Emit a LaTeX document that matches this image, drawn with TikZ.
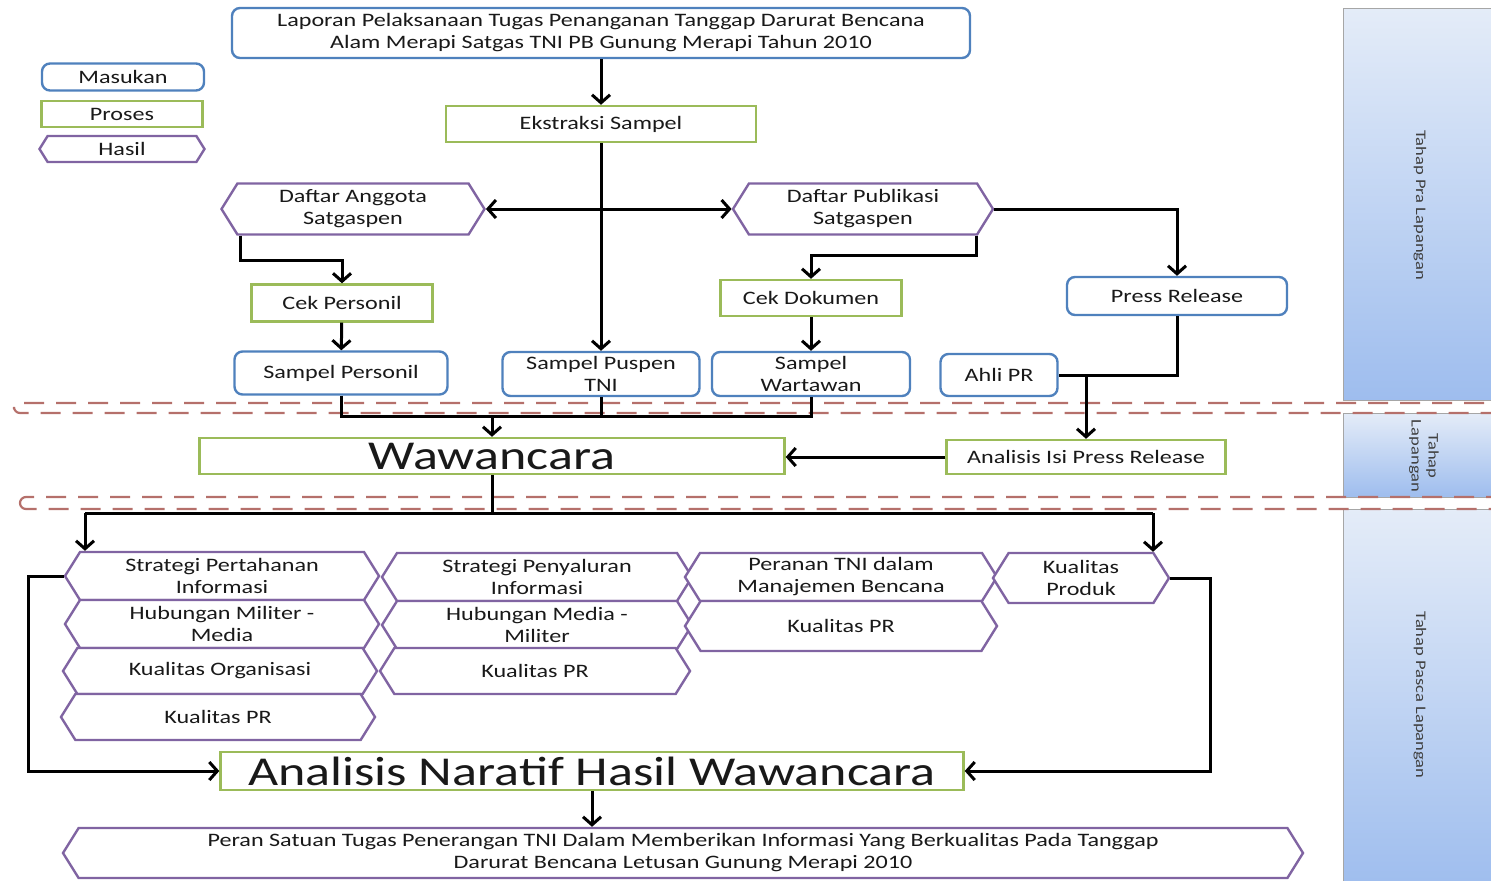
\documentclass[tikz,border=0pt]{standalone}
\usepackage{fontspec}
\setmainfont{Carlito}[FakeStretch=1.27]
\usetikzlibrary{shapes.symbols,arrows.meta,positioning}

\definecolor{masukanC}{HTML}{4F81BD}
\definecolor{prosesC}{HTML}{9BBB59}
\definecolor{hasilC}{HTML}{8064A2}
\definecolor{batasC}{HTML}{B5706B}
\definecolor{tahapTop}{HTML}{E4ECF8}
\definecolor{tahapBot}{HTML}{9EBDEE}

\tikzset{
  base/.style={fill=white, line width=1.2pt, align=center, inner sep=0pt, text=black!90,
    font=\fontsize{9.5}{11}\selectfont},
  masukan/.style={base, draw=masukanC, rounded corners=4pt},
  proses/.style={base, draw=prosesC},
  hasil/.style={base, draw=hasilC, signal, signal to=west and east, signal pointer angle=116},
  ln/.style={line width=1.5pt},
  arr/.style={ln, -{Straight Barb[length=4pt,width=9pt]}},
  arrboth/.style={ln, {Straight Barb[length=4pt,width=9pt]}-{Straight Barb[length=4pt,width=9pt]}},
  batas/.style={draw=batasC, dash pattern=on 10pt off 6pt, line width=1.1pt, rounded corners=3pt},
  tahap/.style={top color=tahapTop, bottom color=tahapBot, draw=gray!70, line width=0.4pt},
  tahaplabel/.style={rotate=-90, align=center, text=black!75, font=\fontsize{7.3}{8.5}\selectfont},
}

\begin{document}
\begin{tikzpicture}[x=0.5pt, y=-0.5pt]
\useasboundingbox (0,0) rectangle (1491,880);

% tahap panels
\shadedraw[tahap] (1343,8) rectangle (1500,400);
\shadedraw[tahap] (1343,413) rectangle (1500,497);
\shadedraw[tahap] (1343,509) rectangle (1500,890);
\node[tahaplabel] (pralap) at (1420,205) {Tahap Pra Lapangan};
\node[tahaplabel] (lap) at (1424,456) {Tahap\\Lapangan};
\node[tahaplabel] (pascalap) at (1420,695) {Tahap Pasca Lapangan};

% batas tahap
\draw[batas] (14,403) rectangle (1510,413);
\draw[batas] (20,497) rectangle (1510,509);

% legenda
\node[masukan, minimum width=81pt, minimum height=13.5pt] (legmasukan) at (123,77) {Masukan};
\node[proses, minimum width=80.5pt, minimum height=13pt] (legproses) at (122,114) {Proses};
\node[hasil, minimum width=82.5pt, minimum height=13pt] (leghasil) at (122,149) {Hasil};

% tahap pra lapangan
\node[masukan, minimum width=369pt, minimum height=25pt] (laporan) at (601,33)
  {Laporan Pelaksanaan Tugas Penanganan Tanggap Darurat Bencana\\Alam Merapi Satgas TNI PB Gunung Merapi Tahun 2010};
\node[proses, minimum width=155pt, minimum height=18pt] (ekstraksi) at (601,124) {Ekstraksi Sampel};
\node[hasil, minimum width=131.5pt, minimum height=25.5pt] (anggota) at (353,209) {Daftar Anggota\\Satgaspen};
\node[hasil, minimum width=130pt, minimum height=25.5pt] (publikasi) at (863,209) {Daftar Publikasi\\Satgaspen};
\node[proses, minimum width=90.5pt, minimum height=18.5pt] (cekpersonil) at (342,303) {Cek Personil};
\node[proses, minimum width=90.5pt, minimum height=18pt] (cekdokumen) at (811,298) {Cek Dokumen};
\node[masukan, minimum width=110pt, minimum height=19pt] (pressrelease) at (1177,296) {Press Release};
\node[masukan, minimum width=106.5pt, minimum height=21.5pt] (sampelpersonil) at (341,373) {Sampel Personil};
\node[masukan, minimum width=98.5pt, minimum height=22pt] (sampelpuspen) at (601,374) {Sampel Puspen\\TNI};
\node[masukan, minimum width=99pt, minimum height=22pt] (sampelwartawan) at (811,374) {Sampel\\Wartawan};
\node[masukan, minimum width=58.5pt, minimum height=21pt] (ahlipr) at (999,375) {Ahli PR};

% tahap lapangan
\node[proses, minimum width=292.5pt, minimum height=18pt, font=\fontsize{20.5}{24}\selectfont] (wawancara) at (492,456) {Wawancara};
\node[proses, minimum width=139.5pt, minimum height=17pt] (analisispr) at (1086,457) {Analisis Isi Press Release};

% tahap pasca lapangan
\node[hasil, minimum width=157pt, minimum height=24pt] (strategi1) at (222,576) {Strategi Pertahanan\\Informasi};
\node[hasil, minimum width=157pt, minimum height=24pt] (hubungan1) at (222,624) {Hubungan Militer -\\Media};
\node[hasil, minimum width=157pt, minimum height=23pt] (organisasi) at (220,671) {Kualitas Organisasi};
\node[hasil, minimum width=157pt, minimum height=23pt] (kpr1) at (218,717) {Kualitas PR};
\node[hasil, minimum width=155pt, minimum height=24pt] (strategi2) at (537,577) {Strategi Penyaluran\\Informasi};
\node[hasil, minimum width=155pt, minimum height=24pt] (hubungan2) at (537,625) {Hubungan Media -\\Militer};
\node[hasil, minimum width=155pt, minimum height=23pt] (kpr2) at (535,671) {Kualitas PR};
\node[hasil, minimum width=156pt, minimum height=24pt] (peranan) at (841,577) {Peranan TNI dalam\\Manajemen Bencana};
\node[hasil, minimum width=156pt, minimum height=25pt] (kpr3) at (841,626) {Kualitas PR};
\node[hasil, minimum width=88pt, minimum height=25pt] (produk) at (1081,578) {Kualitas\\Produk};
\node[proses, minimum width=371.5pt, minimum height=19pt, font=\fontsize{20.5}{24}\selectfont] (naratif) at (592,771) {Analisis Naratif Hasil Wawancara};
\node[hasil, minimum width=620pt, minimum height=25pt] (peran) at (683,853)
  {Peran Satuan Tugas Penerangan TNI Dalam Memberikan Informasi Yang Berkualitas Pada Tanggap\\Darurat Bencana Letusan Gunung Merapi 2010};

% titik bantu
\coordinate (kiriA) at (240,260);
\coordinate (kananA) at (976,255);
\coordinate (gabung) at (492,416);
\coordinate (cabang) at (492,513);
\coordinate (cabangkiri) at (85,513);
\coordinate (cabangkanan) at (1153,513);
\coordinate (balikkiri) at (28,0);
\coordinate (balikkanan) at (1210,0);

% garis
\draw[arr] (laporan) -- (ekstraksi);
\draw[arr] (ekstraksi) -- (sampelpuspen);
\draw[arrboth] (anggota.east) -- (publikasi.west);
\draw[arr] (kiriA |- anggota.south) -- (kiriA) -| (cekpersonil.north);
\draw[arr] (cekpersonil) -- (sampelpersonil);
\draw[arr] (kananA |- publikasi.south) -- (kananA) -| (cekdokumen.north);
\draw[arr] (cekdokumen) -- (sampelwartawan);
\draw[arr] (publikasi.east) -| (pressrelease.north);
\draw[ln] (pressrelease.south) |- (ahlipr.east);
\draw[arr] (analisispr.north |- ahlipr.east) -- (analisispr.north);
\draw[ln] (sampelpersonil.south) |- (sampelwartawan.south |- gabung) -- (sampelwartawan.south);
\draw[ln] (sampelpuspen.south) -- (sampelpuspen.south |- gabung);
\draw[arr] (gabung) -- (wawancara.north);
\draw[arr] (analisispr.west) -- (analisispr.west -| wawancara.east);
\draw[ln] (wawancara.south) -- (cabang);
\draw[ln] (cabangkiri) -- (cabangkanan);
\draw[arr] (cabangkiri) -- (cabangkiri |- strategi1.north);
\draw[arr] (cabangkanan) -- (cabangkanan |- produk.north);
\draw[arr] (strategi1.west) -- (strategi1.west -| balikkiri) |- (naratif.west);
\draw[arr] (produk.east) -- (produk.east -| balikkanan) |- (naratif.east);
\draw[arr] (naratif.south) -- (naratif.south |- peran.north);
\end{tikzpicture}
\end{document}
